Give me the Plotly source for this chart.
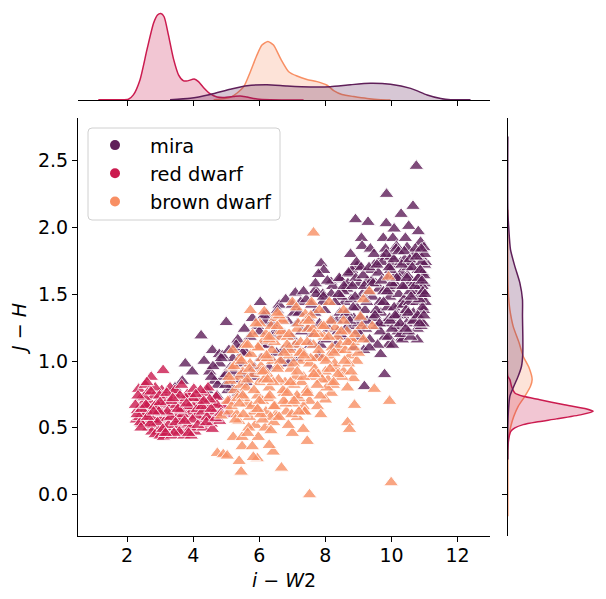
"""
Colour-colour joint plot: i-W2 against J-H with marginal densities
"""

import plotly.graph_objects as go

W, H = 606, 599

# values
mira_x = [
    10.75, 9.85, 10.65, 10.29, 8.91, 9.29, 9.84, 10.52, 10.08, 10.81,
    9.09, 9.75, 10.04, 10.42, 9.11, 9.36, 10.88, 10.98, 10.47, 8.76,
    11.03, 7.87, 7.95, 7.79, 8.96, 8.73, 8.45, 8.17, 7.70, 7.09,
    7.92, 10.78, 10.30, 9.91, 9.67, 9.79, 9.18, 4.24, 4.58, 3.76,
    4.33, 3.97, 4.79, 3.67, 3.45, 5.00, 6.03, 5.79, 5.20, 5.42,
    4.50, 4.65, 4.80, 4.92, 5.05, 5.12, 5.25, 5.35, 5.48, 5.55,
    4.42, 4.60, 4.74, 4.88, 5.00, 5.18, 5.30, 5.44, 5.60, 5.72,
    5.85, 5.95, 6.10, 6.22, 6.35, 6.48, 6.60, 6.72, 6.85, 6.98,
    5.90, 6.05, 6.18, 6.30, 6.42, 6.55, 6.68, 6.80, 6.92, 7.05,
    7.15, 7.25, 7.35, 7.48, 7.60, 7.72, 7.85, 7.98, 8.10, 8.22,
    7.12, 7.28, 7.42, 7.55, 7.68, 7.80, 7.92, 8.05, 8.18, 8.30,
    8.35, 8.42, 8.50, 8.58, 8.65, 8.72, 8.80, 8.88, 8.95, 9.02,
    8.32, 8.44, 8.54, 8.62, 8.70, 8.78, 8.86, 8.94, 9.04, 9.12,
    8.38, 8.48, 8.60, 8.68, 8.76, 8.84, 8.92, 9.00, 9.08, 9.16,
    9.20, 9.28, 9.34, 9.42, 9.48, 9.55, 9.62, 9.68, 9.74, 9.80,
    9.22, 9.30, 9.38, 9.45, 9.52, 9.58, 9.65, 9.72, 9.78, 9.86,
    9.25, 9.33, 9.40, 9.47, 9.54, 9.60, 9.66, 9.76, 9.82, 9.88,
    9.90, 9.95, 10.00, 10.05, 10.10, 10.15, 10.20, 10.25, 10.30, 10.35,
    9.92, 9.98, 10.03, 10.08, 10.12, 10.18, 10.22, 10.28, 10.33, 10.38,
    9.94, 9.97, 10.02, 10.06, 10.14, 10.17, 10.24, 10.27, 10.36, 10.40,
    10.42, 10.46, 10.50, 10.54, 10.58, 10.62, 10.66, 10.70, 10.74, 10.78,
    10.44, 10.48, 10.52, 10.56, 10.60, 10.64, 10.68, 10.72, 10.76, 10.80,
    10.82, 10.85, 10.88, 10.90, 10.92, 10.95, 10.97, 10.99, 11.00, 11.02,
    10.83, 10.86, 10.89, 10.91, 10.94, 10.96, 10.98, 11.00, 10.84, 10.93,
    4.55, 4.72, 4.85, 4.98, 5.08, 5.22, 5.36, 5.50, 5.62, 5.78,
    6.00, 6.14, 6.26, 6.38, 6.52, 6.64, 6.76, 6.88, 7.00, 7.10,
    7.20, 7.34, 7.46, 7.58, 7.70, 7.82, 7.94, 8.06, 8.20, 8.28,
    8.40, 8.46, 8.56, 8.64, 8.74, 8.82, 8.90, 8.98, 9.06, 9.14,
    9.18, 9.26, 9.32, 9.44, 9.50, 9.56, 9.64, 9.70, 9.76, 9.84,
    9.87, 9.93, 9.96, 10.01, 10.07, 10.11, 10.16, 10.21, 10.26, 10.31,
    10.34, 10.39, 10.43, 10.47, 10.51, 10.55, 10.59, 10.63, 10.67, 10.71,
    10.75, 10.79, 10.81, 10.85, 10.87, 10.92, 10.95, 10.98, 11.01, 10.90,
]
mira_y = [
    2.46, 2.25, 2.16, 2.10, 2.06, 2.04, 2.03, 2.01, 1.99, 1.97,
    1.92, 1.92, 1.92, 1.92, 1.86, 1.84, 1.89, 1.85, 1.85, 1.80,
    1.74, 1.73, 1.68, 1.65, 1.71, 1.65, 1.61, 1.59, 1.53, 1.51,
    1.50, 1.16, 1.17, 1.12, 1.05, 0.90, 0.81, 1.19, 1.08, 0.98,
    1.00, 0.92, 1.05, 0.85, 0.80, 1.29, 1.44, 1.32, 1.02, 1.10,
    0.92, 0.85, 0.98, 0.88, 0.78, 0.95, 0.86, 1.16, 0.90, 1.24,
    0.78, 0.96, 0.82, 1.04, 0.90, 0.80, 1.12, 0.98, 1.06, 1.18,
    0.95, 1.26, 1.12, 1.35, 1.02, 1.22, 1.42, 1.08, 1.30, 1.18,
    0.88, 1.02, 1.30, 0.95, 1.18, 1.38, 1.00, 1.46, 1.10, 1.36,
    1.28, 1.44, 1.05, 1.32, 1.20, 1.50, 1.12, 1.38, 1.24, 1.56,
    1.02, 1.22, 1.46, 1.12, 1.36, 1.04, 1.44, 1.16, 1.50, 1.08,
    1.30, 1.62, 1.18, 1.44, 1.54, 1.26, 1.68, 1.10, 1.40, 1.58,
    1.12, 1.36, 1.52, 1.24, 1.66, 1.46, 1.32, 1.74, 1.18, 1.50,
    1.22, 1.48, 1.34, 1.58, 1.14, 1.40, 1.62, 1.28, 1.70, 1.08,
    1.38, 1.60, 1.16, 1.48, 1.72, 1.26, 1.54, 1.36, 1.78, 1.18,
    1.24, 1.52, 1.68, 1.32, 1.58, 1.12, 1.44, 1.74, 1.28, 1.62,
    1.44, 1.10, 1.60, 1.80, 1.38, 1.66, 1.22, 1.52, 1.84, 1.40,
    1.18, 1.48, 1.72, 1.30, 1.58, 1.86, 1.22, 1.42, 1.66, 1.34,
    1.54, 1.78, 1.12, 1.40, 1.64, 1.26, 1.50, 1.74, 1.16, 1.46,
    1.32, 1.68, 1.24, 1.56, 1.84, 1.34, 1.62, 1.20, 1.42, 1.76,
    1.56, 1.28, 1.70, 1.44, 1.18, 1.60, 1.36, 1.80, 1.50, 1.24,
    1.38, 1.64, 1.22, 1.52, 1.74, 1.30, 1.58, 1.84, 1.44, 1.68,
    1.34, 1.56, 1.78, 1.26, 1.48, 1.66, 1.38, 1.58, 1.72, 1.44,
    1.62, 1.30, 1.50, 1.74, 1.40, 1.28, 1.64, 1.80, 1.46, 1.56,
    0.88, 0.74, 1.02, 0.82, 1.08, 0.92, 0.76, 1.06, 0.84, 0.90,
    1.22, 1.34, 1.12, 1.28, 1.06, 1.34, 1.20, 0.98, 1.42, 1.12,
    1.36, 1.52, 1.24, 1.42, 1.58, 1.28, 1.48, 1.60, 1.30, 1.44,
    1.50, 1.20, 1.56, 1.36, 1.30, 1.56, 1.48, 1.22, 1.32, 1.64,
    1.56, 1.30, 1.70, 1.58, 1.34, 1.72, 1.28, 1.60, 1.44, 1.80,
    1.52, 1.70, 1.30, 1.58, 1.76, 1.34, 1.62, 1.82, 1.28, 1.72,
    1.56, 1.82, 1.24, 1.62, 1.36, 1.76, 1.48, 1.70, 1.30, 1.56,
    1.78, 1.34, 1.62, 1.28, 1.68, 1.60, 1.52, 1.34, 1.50, 1.84,
]

red_x = [
    2.73, 3.09, 2.35, 2.42, 2.55, 2.62, 2.48, 2.31, 2.28, 2.38,
    2.50, 2.58, 2.66, 2.74, 2.82, 2.90, 2.45, 2.55, 2.65, 2.70,
    2.78, 2.86, 2.94, 3.02, 3.10, 3.18, 2.75, 2.85, 2.95, 3.05,
    3.12, 3.20, 3.28, 3.36, 3.44, 3.52, 3.00, 3.10, 3.20, 3.30,
    3.40, 3.50, 3.60, 3.70, 3.80, 3.90, 3.35, 3.45, 3.55, 3.65,
    3.75, 3.85, 3.95, 4.05, 4.15, 4.25, 3.72, 3.82, 3.92, 4.02,
    4.10, 4.20, 4.30, 4.40, 4.50, 4.60, 4.35, 4.45, 4.55, 4.65,
    4.70, 4.80, 4.90, 5.00, 5.10, 2.60, 2.85, 3.25, 3.60, 4.00,
    2.25, 2.40, 2.52, 2.68, 2.80, 2.92, 3.04, 3.15, 3.32, 3.48,
    3.58, 3.68, 3.78, 3.88, 3.98, 4.12, 4.28, 4.42, 4.58, 4.72,
    2.33, 2.60, 2.72, 2.98, 3.22, 3.42, 3.62, 3.94, 4.22, 4.50,
    2.30, 2.44, 2.57, 2.70, 2.83, 2.96, 3.08, 3.20, 3.34, 3.47,
    3.60, 3.74, 3.86, 4.00, 4.14, 4.26, 4.40, 4.54, 4.68, 4.84,
    2.42, 2.62, 2.80, 3.00, 3.16, 3.38, 3.54, 3.80, 4.08, 4.32,
]
red_y = [
    0.88, 0.93, 0.79, 0.72, 0.82, 0.76, 0.68, 0.63, 0.56, 0.58,
    0.62, 0.55, 0.70, 0.64, 0.74, 0.68, 0.53, 0.60, 0.50, 0.58,
    0.52, 0.60, 0.48, 0.56, 0.63, 0.72, 0.47, 0.45, 0.66, 0.78,
    0.50, 0.57, 0.67, 0.62, 0.75, 0.55, 0.44, 0.43, 0.46, 0.80,
    0.50, 0.60, 0.69, 0.48, 0.58, 0.73, 0.44, 0.78, 0.52, 0.82,
    0.64, 0.53, 0.62, 0.47, 0.68, 0.56, 0.44, 0.75, 0.50, 0.79,
    0.59, 0.72, 0.50, 0.64, 0.57, 0.68, 0.76, 0.80, 0.53, 0.62,
    0.73, 0.55, 0.66, 0.60, 0.70, 0.66, 0.80, 0.52, 0.56, 0.66,
    0.67, 0.54, 0.73, 0.60, 0.56, 0.54, 0.61, 0.68, 0.58, 0.67,
    0.47, 0.60, 0.72, 0.66, 0.56, 0.64, 0.62, 0.58, 0.49, 0.67,
    0.74, 0.84, 0.77, 0.74, 0.62, 0.46, 0.63, 0.44, 0.78, 0.71,
    0.60, 0.64, 0.67, 0.53, 0.66, 0.62, 0.49, 0.76, 0.70, 0.54,
    0.74, 0.55, 0.46, 0.72, 0.52, 0.66, 0.54, 0.64, 0.57, 0.61,
    0.50, 0.58, 0.62, 0.69, 0.46, 0.72, 0.64, 0.68, 0.75, 0.70,
]

brown_x = [
    9.99, 7.52, 9.94, 8.88, 9.48, 8.67, 8.85, 8.67, 8.73, 7.45,
    7.15, 7.33, 7.00, 7.52, 7.33, 8.18, 8.00, 5.45, 6.67, 4.73,
    4.91, 5.03, 5.39, 5.94, 6.42, 5.82, 6.30, 5.21, 5.48, 5.97,
    5.48, 5.79, 4.85, 5.39, 7.64, 9.91, 9.33, 9.15, 8.12, 7.58,
    7.00, 7.39, 7.82, 8.55, 9.06, 9.42, 8.30, 5.73, 6.15, 6.48,
    6.70, 5.10, 5.25, 5.38, 5.50, 5.62, 5.75, 5.88, 6.00, 6.12,
    5.05, 5.18, 5.32, 5.44, 5.58, 5.70, 5.82, 5.95, 6.08, 6.20,
    5.12, 5.28, 5.42, 5.55, 5.68, 5.80, 5.92, 6.05, 6.18, 6.30,
    5.60, 5.72, 5.85, 5.98, 6.10, 6.25, 6.38, 6.50, 6.62, 6.75,
    6.02, 6.15, 6.28, 6.40, 6.52, 6.65, 6.78, 6.90, 7.02, 7.15,
    6.06, 6.20, 6.34, 6.46, 6.58, 6.70, 6.82, 6.95, 7.08, 7.20,
    6.10, 6.24, 6.36, 6.48, 6.60, 6.72, 6.85, 6.98, 7.10, 7.22,
    6.30, 6.44, 6.56, 6.68, 6.80, 6.92, 7.05, 7.18, 7.30, 7.42,
    7.25, 7.36, 7.48, 7.60, 7.72, 7.84, 7.96, 8.08, 8.20, 8.32,
    7.28, 7.40, 7.52, 7.64, 7.76, 7.88, 8.00, 8.12, 8.24, 8.36,
    7.32, 7.44, 7.56, 7.68, 7.80, 7.92, 8.04, 8.16, 8.28, 8.40,
    8.45, 8.55, 8.65, 8.75, 8.85, 8.95, 8.50, 8.60, 8.70, 8.80,
    5.35, 5.65, 5.90, 6.35, 6.55, 6.88, 7.12, 7.38, 7.62, 7.86,
    5.08, 5.16, 5.24, 5.34, 5.46, 5.52, 5.64, 5.76, 5.84, 5.96,
    6.04, 6.12, 6.22, 6.32, 6.42, 6.54, 6.64, 6.74, 6.84, 6.94,
    7.04, 7.14, 7.24, 7.34, 7.46, 7.56, 7.66, 7.78, 7.90, 8.02,
    8.14, 8.26, 8.38, 8.48, 8.58, 8.68, 8.78, 8.90, 9.00, 9.10,
    5.50, 5.70, 6.00, 6.30, 6.60, 6.90, 7.20, 7.50, 7.80, 8.10,
    5.20, 5.40, 5.65, 5.95, 6.25, 6.55, 6.85, 7.15, 7.45, 7.75,
    6.45, 6.75, 7.05, 7.35, 7.65, 7.95, 8.25, 8.55, 8.85, 9.15,
]
brown_y = [
    0.09, 0.00, 0.70, 0.67, 0.79, 0.80, 0.87, 0.54, 0.49, 0.40,
    0.58, 0.49, 0.46, 0.70, 0.66, 0.76, 0.71, 0.17, 0.20, 0.31,
    0.30, 0.29, 0.25, 0.27, 0.32, 0.28, 0.37, 0.43, 0.43, 0.43,
    0.36, 0.36, 0.59, 0.88, 1.96, 1.63, 1.52, 1.46, 1.44, 1.44,
    1.44, 1.35, 1.38, 1.38, 1.33, 1.26, 1.25, 1.38, 1.37, 1.32,
    1.31, 0.62, 0.78, 0.55, 0.92, 0.68, 1.05, 0.52, 0.84, 1.15,
    0.70, 0.95, 0.60, 0.82, 1.12, 0.58, 0.90, 0.74, 1.02, 0.62,
    0.85, 0.56, 1.02, 0.72, 0.50, 1.20, 0.64, 0.96, 0.50, 0.80,
    0.80, 0.98, 0.62, 1.10, 0.70, 0.90, 1.08, 0.60, 1.22, 0.76,
    1.28, 0.86, 0.72, 1.00, 0.58, 1.18, 0.84, 1.04, 0.68, 1.24,
    0.92, 1.20, 0.58, 1.14, 0.86, 1.30, 0.62, 0.94, 1.12, 0.72,
    0.56, 1.02, 1.26, 0.66, 1.34, 0.78, 1.18, 0.60, 0.88, 1.06,
    1.16, 0.54, 0.96, 1.22, 0.68, 1.08, 0.82, 1.28, 1.00, 0.76,
    1.14, 0.62, 1.24, 0.88, 1.02, 0.74, 1.18, 0.86, 1.10, 0.94,
    0.84, 1.30, 0.98, 1.12, 0.66, 1.26, 0.92, 1.04, 0.82, 1.18,
    1.06, 0.78, 1.34, 0.94, 1.20, 1.02, 0.80, 1.30, 0.98, 1.08,
    1.12, 0.92, 1.22, 1.04, 1.14, 1.00, 0.88, 1.08, 0.98, 1.16,
    0.74, 0.46, 1.28, 0.48, 1.36, 0.52, 1.40, 0.62, 1.24, 0.60,
    0.88, 0.66, 0.96, 0.72, 1.00, 0.60, 0.86, 0.66, 0.78, 1.10,
    0.60, 0.92, 1.04, 0.74, 0.84, 1.26, 1.00, 0.70, 1.12, 0.84,
    0.98, 0.74, 1.06, 0.88, 0.76, 1.02, 1.20, 0.90, 0.86, 1.00,
    0.94, 1.06, 0.90, 1.22, 1.00, 1.14, 0.92, 1.20, 1.06, 1.26,
    0.74, 0.94, 0.70, 1.18, 0.58, 1.20, 0.62, 1.30, 1.08, 1.18,
    1.08, 0.68, 1.12, 0.64, 0.86, 0.94, 0.76, 0.92, 1.14, 0.82,
    0.66, 1.06, 0.70, 1.04, 0.90, 1.26, 0.84, 1.30, 1.10, 1.16,
]

# marginal densities along i-W2
top_mira_x = [3.30, 3.91, 4.52, 5.12, 5.63, 6.23, 6.84, 7.55, 8.15, 8.76, 9.36, 9.97, 10.58, 11.08, 11.49, 11.79, 12.39]
top_mira_y = [.001, .007, .023, .044, .059, .063, .058, .054, .055, .063, .069, .065, .048, .021, .006, .001, .001]
top_red_x = [1.13, 1.79, 2.04, 2.19, 2.39, 2.60, 2.80, 2.92, 3.02, 3.12, 3.25, 3.40, 3.56, 3.71, 3.83, 4.03, 4.16, 4.31,
             4.52, 4.72, 4.92, 5.22, 5.42, 5.63, 5.93, 6.33, 7.34]
top_red_y = [.001, .001, .003, .021, .083, .207, .317, .351, .357, .344, .269, .172, .103, .079, .079, .087, .076, .052,
             .025, .012, .010, .014, .017, .012, .004, .001, 0]
top_brown_x = [4.62, 5.12, 5.32, 5.53, 5.73, 5.93, 6.08, 6.26, 6.43, 6.64, 6.89, 7.14, 7.44, 7.75, 8.05, 8.25, 8.50, 8.86,
               9.26, 9.67, 9.97]
top_brown_y = [.001, .011, .028, .055, .117, .186, .227, .242, .227, .172, .117, .099, .085, .076, .061, .039, .023, .014,
               .006, .001, 0]

# marginal densities along J-H
right_mira_y = [2.682, 2.133, 1.984, 1.834, 1.709, 1.585, 1.46, 1.335, 1.185, 1.061, .961, .886, .811, .736, .636, .512, .262]
right_mira_x = [.01, .01, .039, .088, .216, .363, .441, .441, .451, .451, .412, .314, .186, .069, .029, .01, .01]
right_red_y = [1.0, .886, .861, .811, .761, .736, .711, .674, .644, .624, .599, .567, .544, .524, .499, .474, .424, .387, .337]
right_red_x = [0, .01, .07, .118, .216, .461, .951, 1.637, 2.275, 2.52, 2.176, 1.441, .853, .461, .216, .098, .039, .02, 0]
right_brown_y = [2.133, 1.634, 1.485, 1.385, 1.26, 1.135, 1.036, .948, .861, .811, .736, .661, .586, .512, .437, .362, .237, -.162]
right_brown_x = [.01, .01, .029, .069, .167, .343, .461, .637, .725, .676, .510, .314, .186, .098, .039, .02, .01, .01]

names = ['mira', 'red dwarf', 'brown dwarf']
colors = {'mira': '95,31,89', 'red dwarf': '203,27,79', 'brown dwarf': '248,143,100'}
x_ticks = [2, 4, 6, 8, 10, 12]
y_ticks = [0.0, 0.5, 1.0, 1.5, 2.0, 2.5]

fig = go.Figure()

# Main scatter
scatter = {'mira': (mira_x, mira_y), 'red dwarf': (red_x, red_y), 'brown dwarf': (brown_x, brown_y)}
for name in names:
    xs, ys = scatter[name]
    fig.add_trace(go.Scatter(
        x=xs, y=ys, mode='markers', showlegend=False,
        marker=dict(symbol='triangle-up', size=13, color=f'rgb({colors[name]})', opacity=0.8,
                    line=dict(color='white', width=1)),
    ))

# Legend uses round markers, unlike the scatter
for name in names:
    fig.add_trace(go.Scatter(
        x=[None], y=[None], mode='markers', name=name,
        marker=dict(symbol='circle', size=10, color=f'rgb({colors[name]})'),
    ))

# Marginals
top = {'brown dwarf': (top_brown_x, top_brown_y), 'red dwarf': (top_red_x, top_red_y), 'mira': (top_mira_x, top_mira_y)}
for name, (xs, ys) in top.items():
    fig.add_trace(go.Scatter(
        x=xs, y=ys, xaxis='x2', yaxis='y2', mode='lines', showlegend=False,
        line=dict(color=f'rgb({colors[name]})', width=1.5, shape='spline', smoothing=0.6),
        fill='tozeroy', fillcolor=f'rgba({colors[name]},0.25)',
    ))

right = {'brown dwarf': (right_brown_x, right_brown_y), 'red dwarf': (right_red_x, right_red_y),
         'mira': (right_mira_x, right_mira_y)}
for name, (xs, ys) in right.items():
    fig.add_trace(go.Scatter(
        x=xs, y=ys, xaxis='x3', yaxis='y3', mode='lines', showlegend=False,
        line=dict(color=f'rgb({colors[name]})', width=1.5, shape='spline', smoothing=0.6),
        fill='tozerox', fillcolor=f'rgba({colors[name]},0.25)',
    ))

axis_style = dict(showgrid=False, zeroline=False, showline=True, linecolor='black', linewidth=1,
                  ticks='outside', ticklen=5, tickwidth=1, tickcolor='black')
x_range = [0.515, 12.98]
y_range = [-0.31, 2.82]

# Rounded legend frame, pixel corners from the reference
lx0, lx1 = 88 / W, 280 / W
ly0, ly1 = (H - 220) / H, (H - 128) / H
rx, ry = 4 / W, 4 / H
legend_box = (f'M {lx0 + rx},{ly0} L {lx1 - rx},{ly0} Q {lx1},{ly0} {lx1},{ly0 + ry} '
              f'L {lx1},{ly1 - ry} Q {lx1},{ly1} {lx1 - rx},{ly1} '
              f'L {lx0 + rx},{ly1} Q {lx0},{ly1} {lx0},{ly1 - ry} '
              f'L {lx0},{ly0 + ry} Q {lx0},{ly0} {lx0 + rx},{ly0} Z')

fig.update_layout(
    width=W, height=H,
    margin=dict(l=0, r=0, t=0, b=0),
    paper_bgcolor='white', plot_bgcolor='white',
    font=dict(family='DejaVu Sans', size=19, color='black'),
    xaxis=dict(domain=[78 / W, 490 / W], range=x_range, tickvals=x_ticks, anchor='y', ticklabelstandoff=-3,
               title=dict(text='<i>i</i> − <i>W</i>2', standoff=8, font=dict(size=19)), **axis_style),
    yaxis=dict(domain=[(H - 536) / H, (H - 118) / H], range=y_range, tickvals=y_ticks, tickformat='.1f', anchor='x',
               title=dict(text='<i>J</i> − <i>H</i>', standoff=6, font=dict(size=19)), **axis_style),
    xaxis2=dict(domain=[78 / W, 490 / W], range=x_range, tickvals=x_ticks, showticklabels=False, anchor='y2',
                **axis_style),
    yaxis2=dict(domain=[(H - 100) / H, (H - 10) / H], range=[0, 90 / 242], visible=False, anchor='x2'),
    xaxis3=dict(domain=[507.5 / W, 600 / W], range=[0, 92.5 / 34], visible=False, anchor='y3'),
    yaxis3=dict(domain=[(H - 536) / H, (H - 118) / H], range=y_range, tickvals=y_ticks, showticklabels=False,
                anchor='x3', **axis_style),
    shapes=[dict(type='path', xref='paper', yref='paper', path=legend_box, fillcolor='rgba(255,255,255,0.8)',
                 line=dict(color='#d0d0d0', width=1), layer='above')],
    legend=dict(x=80 / W, y=(H - 126) / H, xanchor='left', yanchor='top', bgcolor='rgba(0,0,0,0)',
                borderwidth=0, font=dict(size=19.4), itemwidth=60, tracegroupgap=0),
)

# the page's default body margin would push the figure off the window
fig.write_html("out.html", config={'displayModeBar': False}, post_script="document.body.style.margin='0';")
